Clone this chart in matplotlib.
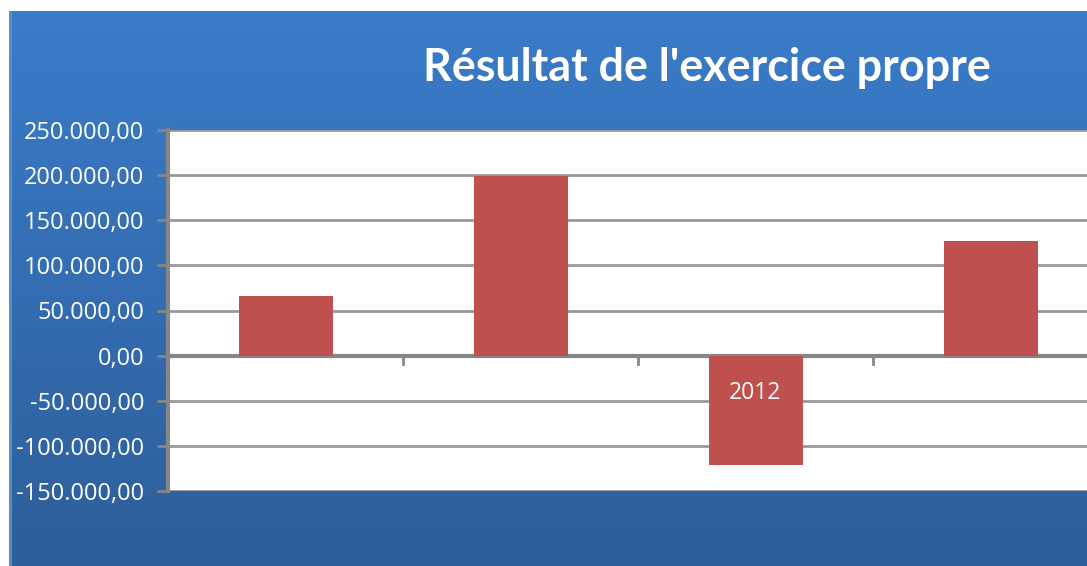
import numpy as np
import matplotlib
matplotlib.use('Agg')
import matplotlib.pyplot as plt
from matplotlib.colors import LinearSegmentedColormap
from matplotlib.ticker import FuncFormatter

annees = ['2010', '2011', '2012', '2013']
resultats = [66000, 199000, -121000, 127000]
graduations = [-150000, -100000, -50000, 0, 50000, 100000, 150000, 200000, 250000]

titre = "Résultat de l'exercice propre"

W, H = 1087, 566
fig = plt.figure(figsize=(W / 100, H / 100), dpi=100)
fig.patch.set_facecolor('white')

# fond dégradé bleu
fond = fig.add_axes([9 / W, 0, 1 - 9 / W, (H - 11) / H])
degrade = LinearSegmentedColormap.from_list('bleu', ['#2e5e9a', '#3a7cc9'])
fond.imshow(np.linspace(0, 1, 256).reshape(-1, 1), aspect='auto', cmap=degrade,
            origin='lower', extent=[0, 1, 0, 1])
fond.axvline(0.001, color='#5a8fd0', lw=2)
fond.set_axis_off()


def fmt(v, pos):
    s = f"{abs(int(v)):,}".replace(',', '.') + ',00'
    return ('-' if v < 0 else '') + s


ax = fig.add_axes([168 / W, (H - 491) / H, 940 / W, 361 / H])
ax.set_facecolor('white')
x = np.arange(len(annees))
ax.bar(x, resultats, width=0.4, color='#c0504d', zorder=3)
ax.set_xlim(-0.5, 3.5)
ax.set_ylim(-150000, 250000)
ax.set_yticks(graduations)
ax.yaxis.set_major_formatter(FuncFormatter(fmt))
ax.grid(axis='y', color='#999999', lw=2, zorder=1)
ax.axhline(0, color='#868686', lw=3, zorder=2)
for s in ['top', 'right', 'bottom']:
    ax.spines[s].set_visible(False)
ax.spines['left'].set_color('#868686')
ax.spines['left'].set_linewidth(3)
ax.tick_params(axis='y', colors='#868686', length=8, width=2, labelcolor='white',
               labelsize=17, pad=9)
for lab in ax.get_yticklabels():
    lab.set_family('Open Sans')
ax.set_xticks([])

# petites graduations entre catégories sur l'axe des x
for b in x[:-1] + 0.5:
    ax.plot([b, b], [0, -9500], color='#868686', lw=2, zorder=2, clip_on=False)

# étiquettes des années (blanches, visibles sur la barre rouge)
for xi, a in zip(x, annees):
    ax.text(xi, -41000, a, ha='center', va='center', color='white',
            fontsize=16.5, family='Open Sans', zorder=4)

fig.text(707 / W, 1 - 68 / H, titre, ha='center', va='center', color='white',
         fontsize=32.3, fontweight='bold', family='Lato')

fig.savefig('out.png', dpi=100)
